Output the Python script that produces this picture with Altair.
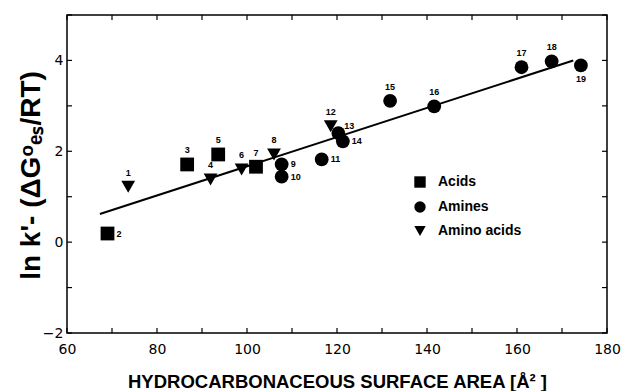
import altair as alt
import pandas as pd

# ---- data ----
ids = [str(i) for i in range(1, 20)]
area = [73.6, 69.0, 86.7, 91.9, 93.6, 98.8, 102.0, 106.0, 107.7, 107.7,
        116.6, 118.6, 120.3, 121.3, 131.8, 141.6, 161.0, 167.7, 174.2]
lnk = [1.22, 0.19, 1.71, 1.38, 1.93, 1.60, 1.66, 1.93, 1.71, 1.44,
       1.82, 2.55, 2.40, 2.22, 3.11, 2.99, 3.85, 3.98, 3.89]
klass = ["Amino acids", "Acids", "Acids", "Amino acids", "Acids", "Amino acids",
         "Acids", "Amino acids", "Amines", "Amines", "Amines", "Amino acids",
         "Amines", "Amines", "Amines", "Amines", "Amines", "Amines", "Amines"]
label_side = ["above", "right", "above", "above", "above", "above", "above",
              "above", "right", "right", "right", "above", "upright", "right",
              "above", "above", "above", "above", "below"]

fit_x = [67.3, 172.5]
fit_y = [0.62, 4.0]

x_ticks = list(range(60, 181, 10))
x_labels = list(range(60, 181, 20))
y_ticks = list(range(-2, 6))
y_labels = [-2, 0, 2, 4]

classes = ["Acids", "Amines", "Amino acids"]
shapes = ["square", "circle", "triangle-down"]

pts = pd.DataFrame({"id": ids, "area": area, "lnk": lnk, "cls": klass, "side": label_side})
fit = pd.DataFrame({"area": fit_x, "lnk": fit_y})
xt = pd.DataFrame({"v": x_ticks})
yt = pd.DataFrame({"v": y_ticks})

W, H = 540, 318
xs = alt.Scale(domain=[60, 180], nice=False, zero=False)
ys = alt.Scale(domain=[-2, 5], nice=False, zero=False)

FONT = "Liberation Sans"

base = alt.Chart(pts)

xaxis = alt.Axis(values=x_labels, ticks=False, domain=False, grid=False, labelFlush=False,
                 labelFont="DejaVu Sans", labelFontSize=14, labelColor="black",
                 labelPadding=9, title="HYDROCARBONACEOUS SURFACE AREA [Å² ]",
                 titleFont=FONT, titleFontSize=18.5, titleFontWeight="bold",
                 titleColor="black", titleX=270, titleY=54, titleAlign="center",
                 titleBaseline="alphabetic")
yaxis = alt.Axis(values=y_labels, ticks=False, domain=False, grid=False, labelFlush=False,
                 labelFont="DejaVu Sans", labelFontSize=14, labelColor="black",
                 labelPadding=4, title="ln k'- (ΔGᵒₑₛ/RT)",
                 titleFont=FONT, titleFontSize=28, titleFontWeight="bold",
                 titleColor="black", titleX=-28, titleY=160, titleAngle=270,
                 titleAlign="center", titleBaseline="alphabetic")

line = alt.Chart(fit).mark_line(color="black", strokeWidth=2).encode(
    x=alt.X("area:Q", scale=xs, axis=xaxis),
    y=alt.Y("lnk:Q", scale=ys, axis=yaxis),
)

points = base.mark_point(filled=True, opacity=1, color="black", size=190).encode(
    x=alt.X("area:Q", scale=xs),
    y=alt.Y("lnk:Q", scale=ys),
    shape=alt.Shape("cls:N", scale=alt.Scale(domain=classes, range=shapes),
                    legend=alt.Legend(title=None, orient="none", legendX=346, legendY=160,
                                      labelFont=FONT, labelFontSize=14, labelFontWeight="bold",
                                      labelColor="black", symbolFillColor="black",
                                      symbolStrokeColor="black", symbolSize=130,
                                      rowPadding=7, labelOffset=11, padding=0)),
)

def lab(side, **kw):
    return base.transform_filter(alt.datum.side == side).mark_text(
        font=FONT, fontSize=9, fontWeight="bold", color="black", **kw
    ).encode(x=alt.X("area:Q", scale=xs), y=alt.Y("lnk:Q", scale=ys), text="id:N")

labels = alt.layer(
    lab("above", dy=-14, baseline="middle", align="center"),
    lab("below", dy=14, baseline="middle", align="center"),
    lab("right", dx=9, baseline="middle", align="left"),
    lab("upright", dx=6, dy=-7, baseline="middle", align="left"),
)

tick_bottom = alt.Chart(xt).mark_rule(color="black", strokeWidth=1.2).encode(
    x=alt.X("v:Q", scale=xs), y=alt.value(H), y2=alt.value(H - 5))
tick_top = alt.Chart(xt).mark_rule(color="black", strokeWidth=1.2).encode(
    x=alt.X("v:Q", scale=xs), y=alt.value(0), y2=alt.value(5))
tick_left = alt.Chart(yt).mark_rule(color="black", strokeWidth=1.2).encode(
    y=alt.Y("v:Q", scale=ys), x=alt.value(0), x2=alt.value(5))
tick_right = alt.Chart(yt).mark_rule(color="black", strokeWidth=1.2).encode(
    y=alt.Y("v:Q", scale=ys), x=alt.value(W), x2=alt.value(W - 5))

chart = alt.layer(line, tick_bottom, tick_top, tick_left, tick_right, points, labels).properties(
    width=W, height=H,
    autosize=alt.AutoSizeParams(type="none"),
    padding={"left": 67, "top": 15, "right": 20, "bottom": 58},
    background="white",
).configure_view(stroke="black", strokeWidth=1.5)

chart.save("out.html", embed_options={"renderer": "svg", "actions": False})
